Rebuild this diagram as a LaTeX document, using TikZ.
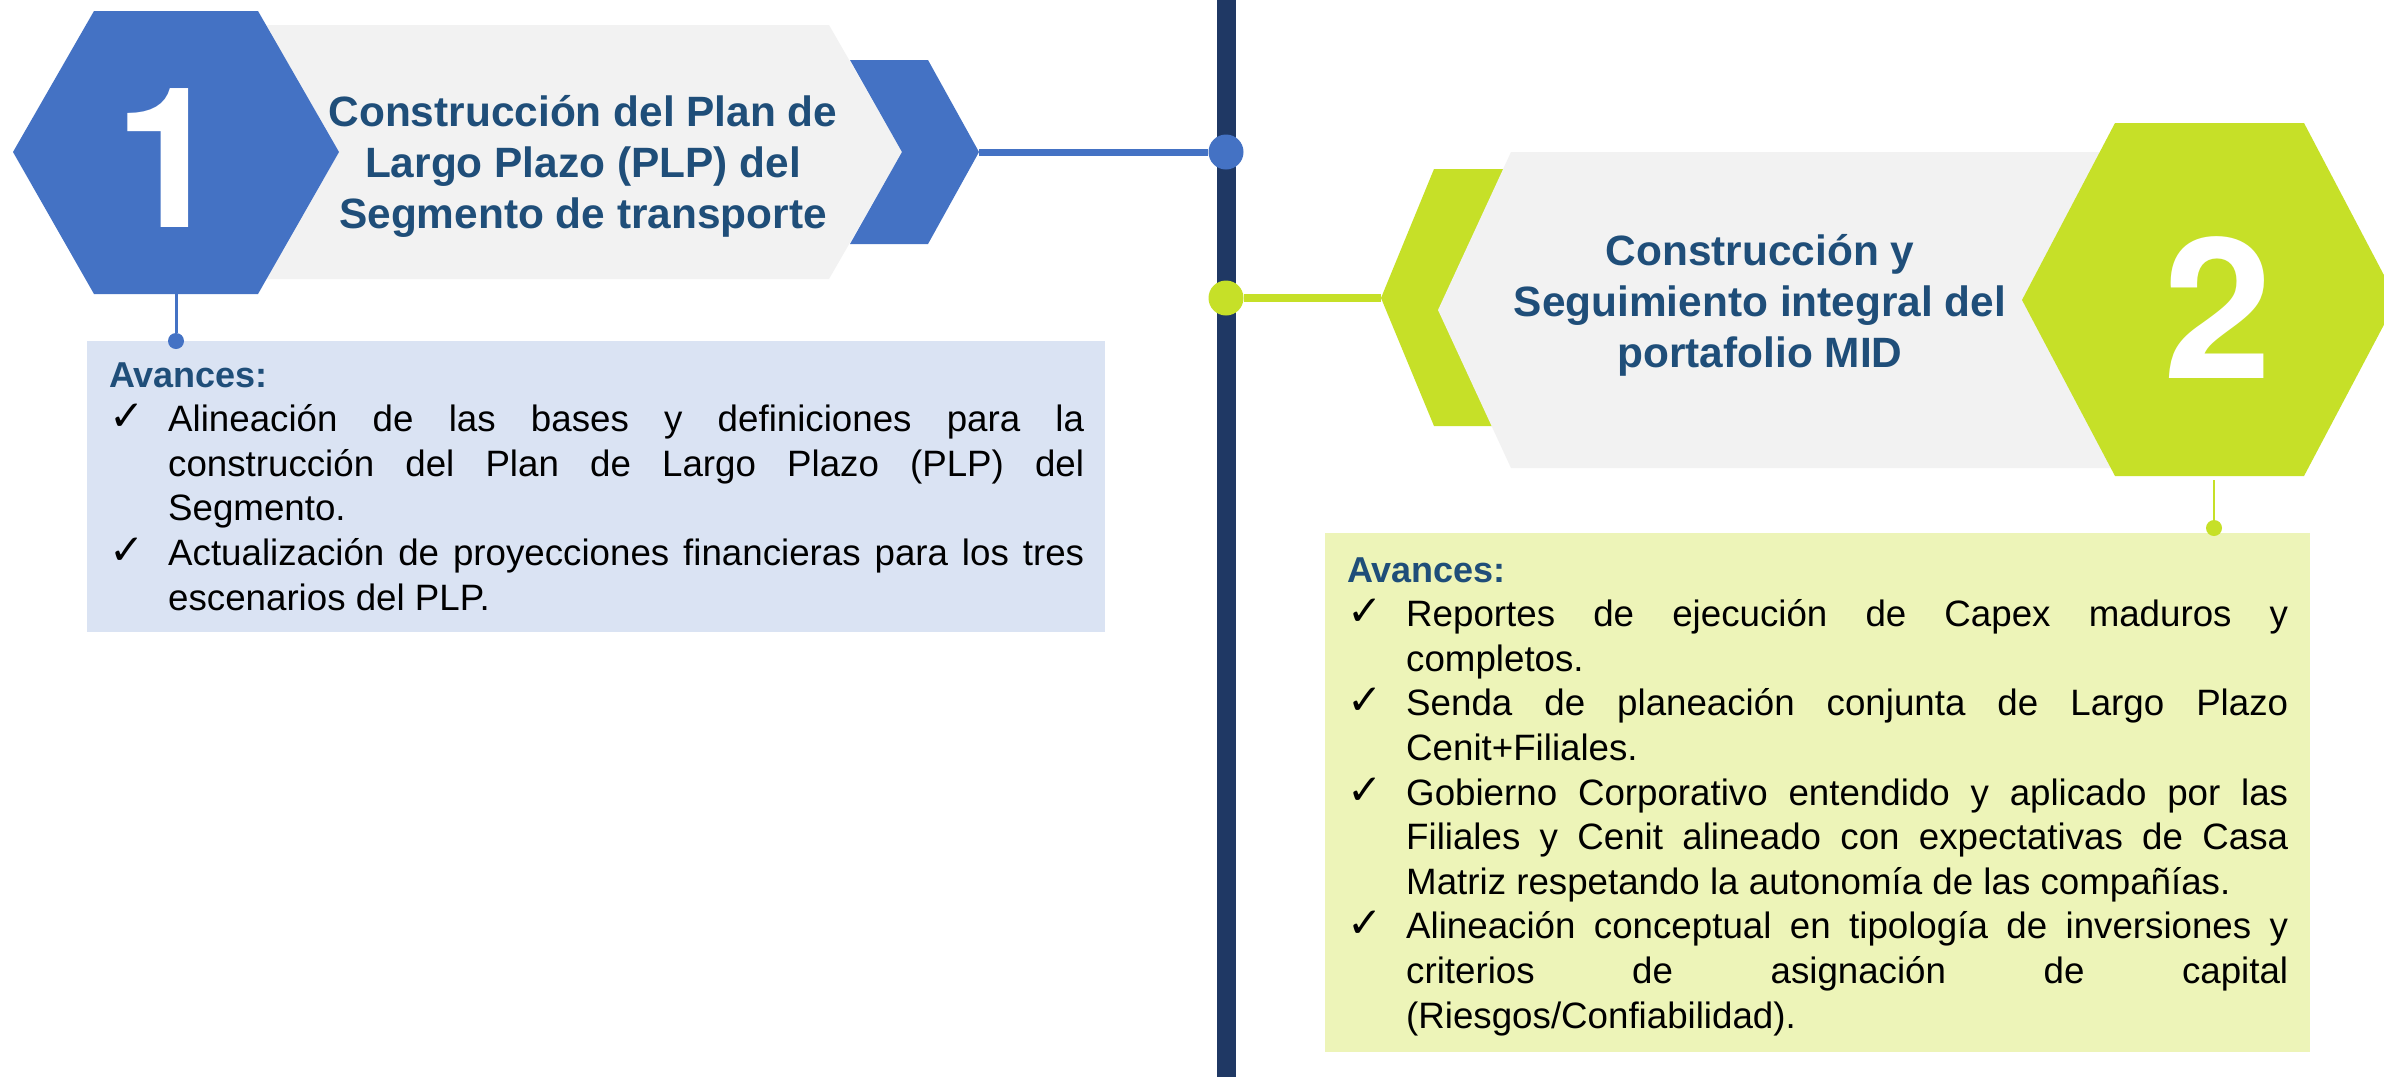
\documentclass[tikz,border=0pt]{standalone}
\usepackage{fontspec}
\setmainfont{Liberation Sans}
\newfontfamily\chkfont{DejaVu Sans}
\newfontfamily\digitfont{TeX Gyre Heros}
\definecolor{hexblue}{RGB}{68,114,196}
\definecolor{bannergray}{RGB}{242,242,242}
\definecolor{navy}{RGB}{31,56,100}
\definecolor{titleblue}{RGB}{31,78,121}
\definecolor{lime}{RGB}{198,224,40}
\definecolor{lightblue}{RGB}{218,227,243}
\definecolor{lightlime}{RGB}{237,244,184}
\newcommand\chk{\makebox[59pt][l]{\raisebox{1pt}{\chkfont\fontsize{42}{42}\selectfont ✓}}}
\newcommand\JL[2]{\hbox{#1\makebox[\mytw][s]{#2}}}
\newcommand\LL[2]{\hbox{#1\makebox[\mytw][l]{#2}}}
\newcommand\ind{\hspace*{59pt}}
\newlength\mytw
\begin{document}
\begin{tikzpicture}[x=1pt,y=-1pt,
  titletext/.style={text=titleblue, align=center, inner sep=0,
    font=\bfseries\fontsize{42.4}{51}\selectfont},
  digit/.style={text=white, inner sep=0, font=\digitfont\bfseries\fontsize{196}{196}\selectfont},
  bodytext/.style={anchor=base west, inner sep=0, text=black,
    font=\fontsize{36.7}{44.6}\selectfont},
  bigdot/.style={circle, inner sep=0, minimum size=35pt, fill=#1},
  smalldot/.style={circle, inner sep=0, minimum size=16pt, fill=#1}]
\useasboundingbox (0,0) rectangle (2384,1077);
\clip (0,0) rectangle (2384,1077);
\fill[white] (0,0) rectangle (2384,1077);

% central timeline
\coordinate (vtop) at (1226,0);
\coordinate (vbot) at (1226,1077);
\draw[navy, line width=19pt] (vtop) -- (vbot);

% ---------- step 1 ----------
\fill[bannergray] (250,25) -- (829,25) -- (902,152) -- (829,279) -- (250,279) -- cycle;
\fill[hexblue] (850,60) -- (928,60) -- (979,152) -- (928,244) -- (850,244) -- (902,152) -- cycle;
\fill[hexblue] (13,152) -- (94,11) -- (258,11) -- (339,152) -- (258,294) -- (94,294) -- cycle;
\coordinate (c1tip) at (979,152);
\node[bigdot=hexblue] (dot1) at (1226,152) {};
\draw[hexblue, line width=7pt] (c1tip) -- (dot1);
\node[digit, anchor=base] (n1) at (169,227) {1};
\node[titletext] (t1) at (583,166) {Construcción del Plan de\\Largo Plazo (PLP) del\\Segmento de transporte};

\fill[lightblue] (87,341) rectangle (1105,632);
\coordinate (h1bot) at (176,294);
\node[smalldot=hexblue] (d1) at (176,341) {};
\draw[hexblue, line width=3pt] (h1bot) -- (d1);
\setlength\mytw{916pt}
\node[bodytext] (b1) at (109,387) {\vtop{\baselineskip=44.6pt\lineskiplimit=-100pt\lineskip=0pt
  \hbox{\textcolor{titleblue}{\bfseries\fontsize{36}{44.6}\selectfont Avances:}}
  \JL{\chk}{Alineación de las bases y definiciones para la}
  \JL{\ind}{construcción del Plan de Largo Plazo (PLP) del}
  \LL{\ind}{Segmento.}
  \JL{\chk}{Actualización de proyecciones financieras para los tres}
  \LL{\ind}{escenarios del PLP.}}};

% ---------- step 2 ----------
\fill[lime] (1434,169) -- (1530,169) -- (1530,426) -- (1434,426) -- (1381,298) -- cycle;
\fill[bannergray] (1511,152) -- (2120,152) -- (2120,468) -- (1511,468) -- (1438,310) -- cycle;
\fill[lime] (2022,300) -- (2115,123) -- (2304,123) -- (2397,300) -- (2304,476) -- (2115,476) -- cycle;
\coordinate (c2tip) at (1381,298);
\node[bigdot=lime] (dot2) at (1226,298) {};
\draw[lime, line width=8pt] (dot2) -- (c2tip);
\node[digit, anchor=base] (n2) at (2218,378) {2};
\node[titletext] (t2) at (1760,305) {Construcción y\\Seguimiento integral del\\portafolio MID};

\fill[lightlime] (1325,533) rectangle (2310,1052);
\coordinate (h2bot) at (2214,480);
\node[smalldot=lime] (d2) at (2214,528) {};
\draw[lime, line width=2.5pt] (h2bot) -- (d2);
\setlength\mytw{882pt}
\node[bodytext] (b2) at (1347,582) {\vtop{\baselineskip=44.6pt\lineskiplimit=-100pt\lineskip=0pt
  \hbox{\textcolor{titleblue}{\bfseries\fontsize{36}{44.6}\selectfont Avances:}}
  \JL{\chk}{Reportes de ejecución de Capex maduros y}
  \LL{\ind}{completos.}
  \JL{\chk}{Senda de planeación conjunta de Largo Plazo}
  \LL{\ind}{Cenit+Filiales.}
  \JL{\chk}{Gobierno Corporativo entendido y aplicado por las}
  \JL{\ind}{Filiales y Cenit alineado con expectativas de Casa}
  \LL{\ind}{Matriz respetando la autonomía de las compañías.}
  \JL{\chk}{Alineación conceptual en tipología de inversiones y}
  \JL{\ind}{criterios de asignación de capital}
  \LL{\ind}{(Riesgos/Confiabilidad).}}};
\end{tikzpicture}
\end{document}
